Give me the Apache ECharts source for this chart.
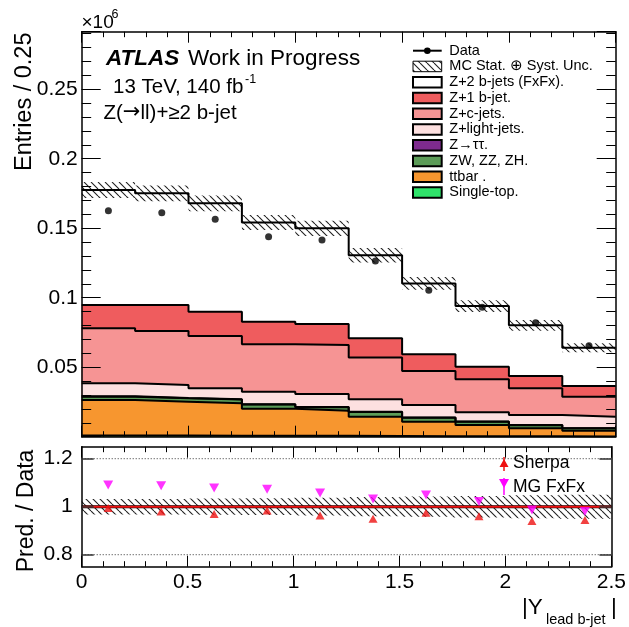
<!DOCTYPE html>
<html>
<head>
<meta charset="utf-8">
<script src="https://cdn.jsdelivr.net/npm/echarts@6/dist/echarts.min.js"></script>
<style>
  html, body { margin: 0; padding: 0; background: #fff; }
  #chart { width: 629px; height: 627px; }
</style>
</head>
<body>
<div id="chart"></div>
<script>
// ---- binning and yields (entries per bin, in units of 10^6) ----
const binEdges = [0, 0.25, 0.5, 0.75, 1.0, 1.25, 1.5, 1.75, 2.0, 2.25, 2.5];
const dataYield   = [0.1626, 0.1612, 0.1564, 0.1439, 0.1415, 0.1264, 0.1053, 0.0931, 0.0820, 0.0655];
const singleTop   = [0.0008, 0.0008, 0.0007, 0.0006, 0.0006, 0.0005, 0.0004, 0.0003, 0.0003, 0.0002];
const ttbar       = [0.0256, 0.0244, 0.0233, 0.0195, 0.0181, 0.0139, 0.0104, 0.0081, 0.0057, 0.0041];
const dibosonZV   = [0.0024, 0.0024, 0.0027, 0.0030, 0.0024, 0.0034, 0.0028, 0.0024, 0.0023, 0.0017];
const zTauTau     = [0.0003, 0.0003, 0.0003, 0.0002, 0.0002, 0.0002, 0.0002, 0.0001, 0.0001, 0.0001];
const zLightJets  = [0.0093, 0.0093, 0.0078, 0.0091, 0.0094, 0.0089, 0.0090, 0.0067, 0.0072, 0.0083];
const zCJets      = [0.0396, 0.0389, 0.0376, 0.0341, 0.0353, 0.0300, 0.0245, 0.0237, 0.0192, 0.0144];
const z1BJet      = [0.0167, 0.0186, 0.0175, 0.0162, 0.0151, 0.0139, 0.0120, 0.0091, 0.0089, 0.0077];
const z2BJetsFxFx = [0.0828, 0.0804, 0.0780, 0.0715, 0.0688, 0.0597, 0.0510, 0.0436, 0.0364, 0.0275];
// relative MC stat. (+) syst. uncertainty per bin
const mcRelUnc    = [0.032, 0.032, 0.034, 0.035, 0.037, 0.040, 0.042, 0.045, 0.048, 0.050];
// prediction / data
const ratioSherpa = [0.995, 0.980, 0.970, 0.984, 0.963, 0.950, 0.975, 0.960, 0.940, 0.945];
const ratioMGFxFx = [1.090, 1.087, 1.078, 1.073, 1.057, 1.032, 1.049, 1.022, 0.986, 0.980];

// ---- tick labels ----
const xTickLabels = [0, 0.5, 1, 1.5, 2, 2.5];
const yMainTickLabels = [0.05, 0.1, 0.15, 0.2, 0.25];
const yRatioTickLabels = [0.8, 1, 1.2];
const ratioGuides = [0.8, 1.2];
const ratioUnity = 1;

// ---- styling ----
const FONT = '"Liberation Sans", Arial, Helvetica, sans-serif';
const layers = [   // bottom of the stack first
  { name: 'Single-top.',         values: singleTop,   color: '#2fe36a' },
  { name: 'ttbar .',             values: ttbar,       color: '#f7962f' },
  { name: 'ZW, ZZ, ZH.',         values: dibosonZV,   color: '#5c9c58' },
  { name: 'Z\u2192\u03c4\u03c4.', values: zTauTau,    color: '#7e2b8e' },
  { name: 'Z+light-jets.',       values: zLightJets,  color: '#fde0e0' },
  { name: 'Z+c-jets.',           values: zCJets,      color: '#f69494' },
  { name: 'Z+1 b-jet.',          values: z1BJet,      color: '#ef5c5e' },
  { name: 'Z+2 b-jets (FxFx).',  values: z2BJetsFxFx, color: '#ffffff' }
];
const SHERPA_COLOR = '#ee1111';
const MG_COLOR = '#ff00ff';

function hatchPattern(step, color, width) {
  const c = document.createElement('canvas');
  c.width = step; c.height = step;
  const g = c.getContext('2d');
  g.strokeStyle = color; g.lineWidth = width;
  g.beginPath();
  for (const k of [-1, 0, 1]) { g.moveTo(k * step, 0); g.lineTo(k * step + step, step); }
  g.stroke();
  return { image: c, repeat: 'repeat' };
}
const HATCH = hatchPattern(7, '#222', 1.1);

// histogram outline points: left edge of every bin plus the final right edge
function stepPoints(vals) {
  const pts = vals.map((v, i) => [binEdges[i], v]);
  pts.push([binEdges[vals.length], vals[vals.length - 1]]);
  return pts;
}
const nBins = dataYield.length;
const binCenters = dataYield.map((_, i) => (binEdges[i] + binEdges[i + 1]) / 2);

// cumulative stack tops
const cumulative = [];
let running = new Array(nBins).fill(0);
layers.forEach(l => {
  running = running.map((r, i) => r + l.values[i]);
  cumulative.push(running.slice());
});
const mcTotal = cumulative[cumulative.length - 1];

const series = [];
// filled layers: largest cumulative drawn first so lower layers paint over it
for (let k = layers.length - 1; k >= 0; k--) {
  series.push({
    type: 'line', xAxisIndex: 0, yAxisIndex: 0, step: 'end', symbol: 'none', silent: true,
    data: stepPoints(cumulative[k]),
    lineStyle: { width: 0, opacity: 0 },
    areaStyle: { color: layers[k].color, opacity: 1 },
    z: 2 + (layers.length - 1 - k) * 0.1
  });
}
// uncertainty hatch boxes around the total
series.push({
  type: 'custom', xAxisIndex: 0, yAxisIndex: 0, silent: true, z: 4,
  data: mcTotal.map((t, i) => [binEdges[i], binEdges[i + 1], t * (1 - mcRelUnc[i]), t * (1 + mcRelUnc[i])]),
  encode: { x: [0, 1], y: [2, 3] },
  renderItem: (params, api) => {
    const p0 = api.coord([api.value(0), api.value(3)]);
    const p1 = api.coord([api.value(1), api.value(2)]);
    return { type: 'rect', shape: { x: p0[0], y: p0[1], width: p1[0] - p0[0], height: p1[1] - p0[1] },
             style: { fill: HATCH, stroke: null } };
  }
});
// black outlines of every stack layer
cumulative.forEach(c => {
  series.push({
    type: 'line', xAxisIndex: 0, yAxisIndex: 0, step: 'end', symbol: 'none', silent: true,
    data: stepPoints(c),
    lineStyle: { color: '#000', width: 2 }, z: 5
  });
});
// data points
series.push({
  type: 'scatter', xAxisIndex: 0, yAxisIndex: 0, silent: true, z: 7,
  symbol: 'circle', symbolSize: 7, itemStyle: { color: '#000' },
  data: binCenters.map((x, i) => [x, dataYield[i]])
});

// ---- ratio panel ----
series.push({
  type: 'custom', xAxisIndex: 2, yAxisIndex: 4, silent: true, z: 3,
  data: mcRelUnc.map((u, i) => [binEdges[i], binEdges[i + 1], ratioUnity - u, ratioUnity + u]),
  encode: { x: [0, 1], y: [2, 3] },
  renderItem: (params, api) => {
    const p0 = api.coord([api.value(0), api.value(3)]);
    const p1 = api.coord([api.value(1), api.value(2)]);
    return { type: 'rect', shape: { x: p0[0], y: p0[1], width: p1[0] - p0[0], height: p1[1] - p0[1] },
             style: { fill: HATCH, stroke: null } };
  }
});
ratioGuides.forEach(g => {
  series.push({
    type: 'line', xAxisIndex: 2, yAxisIndex: 4, symbol: 'none', silent: true, z: 4,
    data: [[binEdges[0], g], [binEdges[nBins], g]],
    lineStyle: { color: '#333', width: 1, type: [1, 2] }
  });
});
series.push({
  type: 'line', xAxisIndex: 2, yAxisIndex: 4, symbol: 'none', silent: true, z: 4,
  data: [[binEdges[0], ratioUnity], [binEdges[nBins], ratioUnity]],
  lineStyle: { color: '#000', width: 3 }
});
series.push({
  type: 'line', xAxisIndex: 2, yAxisIndex: 4, symbol: 'none', silent: true, z: 4.5,
  data: [[binEdges[0], ratioUnity], [binEdges[nBins], ratioUnity]],
  lineStyle: { color: SHERPA_COLOR, width: 2 }
});
series.push({
  type: 'scatter', xAxisIndex: 2, yAxisIndex: 4, silent: true, z: 7,
  symbol: 'triangle', symbolSize: [9, 8], itemStyle: { color: SHERPA_COLOR },
  data: binCenters.map((x, i) => [x, ratioSherpa[i]])
});
series.push({
  type: 'scatter', xAxisIndex: 2, yAxisIndex: 4, silent: true, z: 7,
  symbol: 'triangle', symbolRotate: 180, symbolSize: [10, 9], itemStyle: { color: MG_COLOR },
  data: binCenters.map((x, i) => [x, ratioMGFxFx[i]])
});

// ---- axes ----
const AX_Z = 10;
function xAxisDef(grid, position, withLabels) {
  return {
    type: 'value', gridIndex: grid, position, min: 0, max: 2.5, interval: 0.5, z: AX_Z,
    axisLine: { show: true, onZero: false, lineStyle: { color: '#000', width: 1.5 } },
    axisTick: { show: true, inside: true, length: 11, lineStyle: { color: '#000', width: 1 } },
    minorTick: { show: true, splitNumber: 5, length: 5.5, lineStyle: { color: '#000', width: 1 } },
    splitLine: { show: false }, minorSplitLine: { show: false },
    axisLabel: withLabels ? {
      show: true, customValues: xTickLabels, margin: 5, color: '#000', fontFamily: FONT, fontSize: 21,
      formatter: v => (xTickLabels.some(t => Math.abs(t - v) < 1e-9) ? String(+v.toFixed(2)) : '')
    } : { show: false }
  };
}
function yMainDef(position, major) {
  return {
    type: 'value', gridIndex: 0, position, min: 0, max: 0.2914, interval: major ? 0.05 : 0.01, z: AX_Z,
    axisLine: { show: major, onZero: false, lineStyle: { color: '#000', width: 1.5 } },
    axisTick: { show: true, inside: true, length: major ? 19 : 9.5, lineStyle: { color: '#000', width: 1 } },
    splitLine: { show: false },
    axisLabel: (major && position === 'left') ? {
      show: true, customValues: yMainTickLabels, margin: 4, color: '#000', fontFamily: FONT, fontSize: 21,
      formatter: v => (yMainTickLabels.some(t => Math.abs(t - v) < 1e-9) ? String(+v.toFixed(2)) : '')
    } : { show: false }
  };
}
function yRatioDef(position) {
  return {
    type: 'value', gridIndex: 1, position, min: 0.75, max: 1.25, z: AX_Z,
    axisLine: { show: true, onZero: false, lineStyle: { color: '#000', width: 1.5 } },
    axisTick: { show: true, inside: true, length: 12, customValues: yRatioTickLabels,
                lineStyle: { color: '#333', width: 1.5 } },
    splitLine: { show: false },
    axisLabel: position === 'left' ? {
      show: true, customValues: yRatioTickLabels, margin: 9, color: '#000', fontFamily: FONT, fontSize: 21,
      formatter: v => (yRatioTickLabels.some(t => Math.abs(t - v) < 1e-9) ? String(+v.toFixed(2)) : '')
    } : { show: false }
  };
}

// ---- text and legend ----
const graphics = [];
function txt(text, x, y, size, opts) {
  opts = opts || {};
  const font = (opts.style || '') + ' ' + (opts.weight || 'normal') + ' ' + size + 'px ' + FONT;
  const style = {
    text, font, fill: opts.fill || '#000',
    textAlign: opts.align || 'left', align: opts.align || 'left',
    textVerticalAlign: 'middle', verticalAlign: 'middle'
  };
  if (opts.rich) style.rich = opts.rich;
  graphics.push({ type: 'text', x, y, rotation: opts.rotation || 0, z: 100, silent: true, style });
}
txt('\u00d710', 81.5, 23, 19);
txt('6', 111.5, 14.5, 12.5);
txt('ATLAS', 106, 59, 22.5, { style: 'italic', weight: 'bold' });
txt('Work in Progress', 188, 59, 22.5);
txt('13 TeV, 140 fb', 113, 87, 20.5);
txt('-1', 245, 79.5, 12.5);
txt('{t|Z(}{a|\u2192}{t|ll)+\u22652 b-jet}', 103.5, 113, 20.5, {
  rich: {
    t: { fontFamily: FONT, fontSize: 20.5, fill: '#000' },
    a: { fontFamily: '"DejaVu Sans", sans-serif', fontSize: 21, fill: '#000' }
  }
});
txt('Entries / 0.25', 25, 32.5, 23.5, { rotation: Math.PI / 2, align: 'right' });
txt('Pred. / Data', 27, 511, 23, { rotation: Math.PI / 2, align: 'center' });
txt('|Y', 522, 608, 22.5);
txt('lead b-jet', 546, 620, 14.5);
txt('|', 611, 608, 22.5);

// main legend
const LEG_X = 413, LEG_W = 28.7, LEG_H = 10.5, LEG_Y0 = 50.7, LEG_DY = 15.75, LEG_TX = 449.3;
const legendEntries = [{ name: 'Data', kind: 'data' }, { name: 'MC Stat. \u2295 Syst. Unc.', kind: 'hatch' }]
  .concat(layers.slice().reverse().map(l => ({ name: l.name, kind: 'box', color: l.color })));
legendEntries.forEach((e, i) => {
  const cy = LEG_Y0 + i * LEG_DY;
  if (e.kind === 'data') {
    graphics.push({ type: 'line', z: 100, silent: true,
      shape: { x1: LEG_X, y1: cy, x2: LEG_X + LEG_W, y2: cy }, style: { stroke: '#000', lineWidth: 2 } });
    graphics.push({ type: 'circle', z: 100, silent: true,
      shape: { cx: LEG_X + LEG_W / 2, cy, r: 3.3 }, style: { fill: '#000' } });
  } else if (e.kind === 'hatch') {
    graphics.push({ type: 'rect', z: 100, silent: true,
      shape: { x: LEG_X, y: cy - LEG_H / 2, width: LEG_W, height: LEG_H },
      style: { fill: HATCH, stroke: '#000', lineWidth: 1 } });
  } else {
    graphics.push({ type: 'rect', z: 100, silent: true,
      shape: { x: LEG_X, y: cy - LEG_H / 2, width: LEG_W, height: LEG_H },
      style: { fill: e.color, stroke: '#000', lineWidth: 2 } });
  }
  txt(e.name, LEG_TX, cy, 14.5);
});

// ratio legend
graphics.push({ type: 'line', z: 100, silent: true, shape: { x1: 504, y1: 457, x2: 504, y2: 471 },
  style: { stroke: SHERPA_COLOR, lineWidth: 1.5 } });
graphics.push({ type: 'polygon', z: 100, silent: true, shape: { points: [[504, 459], [499.5, 467], [508.5, 467]] },
  style: { fill: SHERPA_COLOR } });
txt('Sherpa', 513, 463.5, 17.5);
graphics.push({ type: 'line', z: 100, silent: true, shape: { x1: 504, y1: 478, x2: 504, y2: 495 },
  style: { stroke: MG_COLOR, lineWidth: 1.5 } });
graphics.push({ type: 'polygon', z: 100, silent: true, shape: { points: [[499, 479], [509, 479], [504, 488]] },
  style: { fill: MG_COLOR } });
txt('MG FxFx', 513, 487, 17.5);

const chart = echarts.init(document.getElementById('chart'));
chart.setOption({
  animation: false,
  backgroundColor: '#fff',
  grid: [
    { left: 81.7, right: 13.3, top: 31.7, height: 405, show: false },
    { left: 81.7, right: 13.3, top: 446.7, height: 120, show: false }
  ],
  xAxis: [
    xAxisDef(0, 'bottom', false),
    xAxisDef(0, 'top', false),
    xAxisDef(1, 'bottom', true),
    xAxisDef(1, 'top', false)
  ],
  yAxis: [
    yMainDef('left', true),
    yMainDef('left', false),
    yMainDef('right', true),
    yMainDef('right', false),
    yRatioDef('left'),
    yRatioDef('right')
  ],
  series,
  graphic: { elements: graphics }
});
</script>
</body>
</html>
